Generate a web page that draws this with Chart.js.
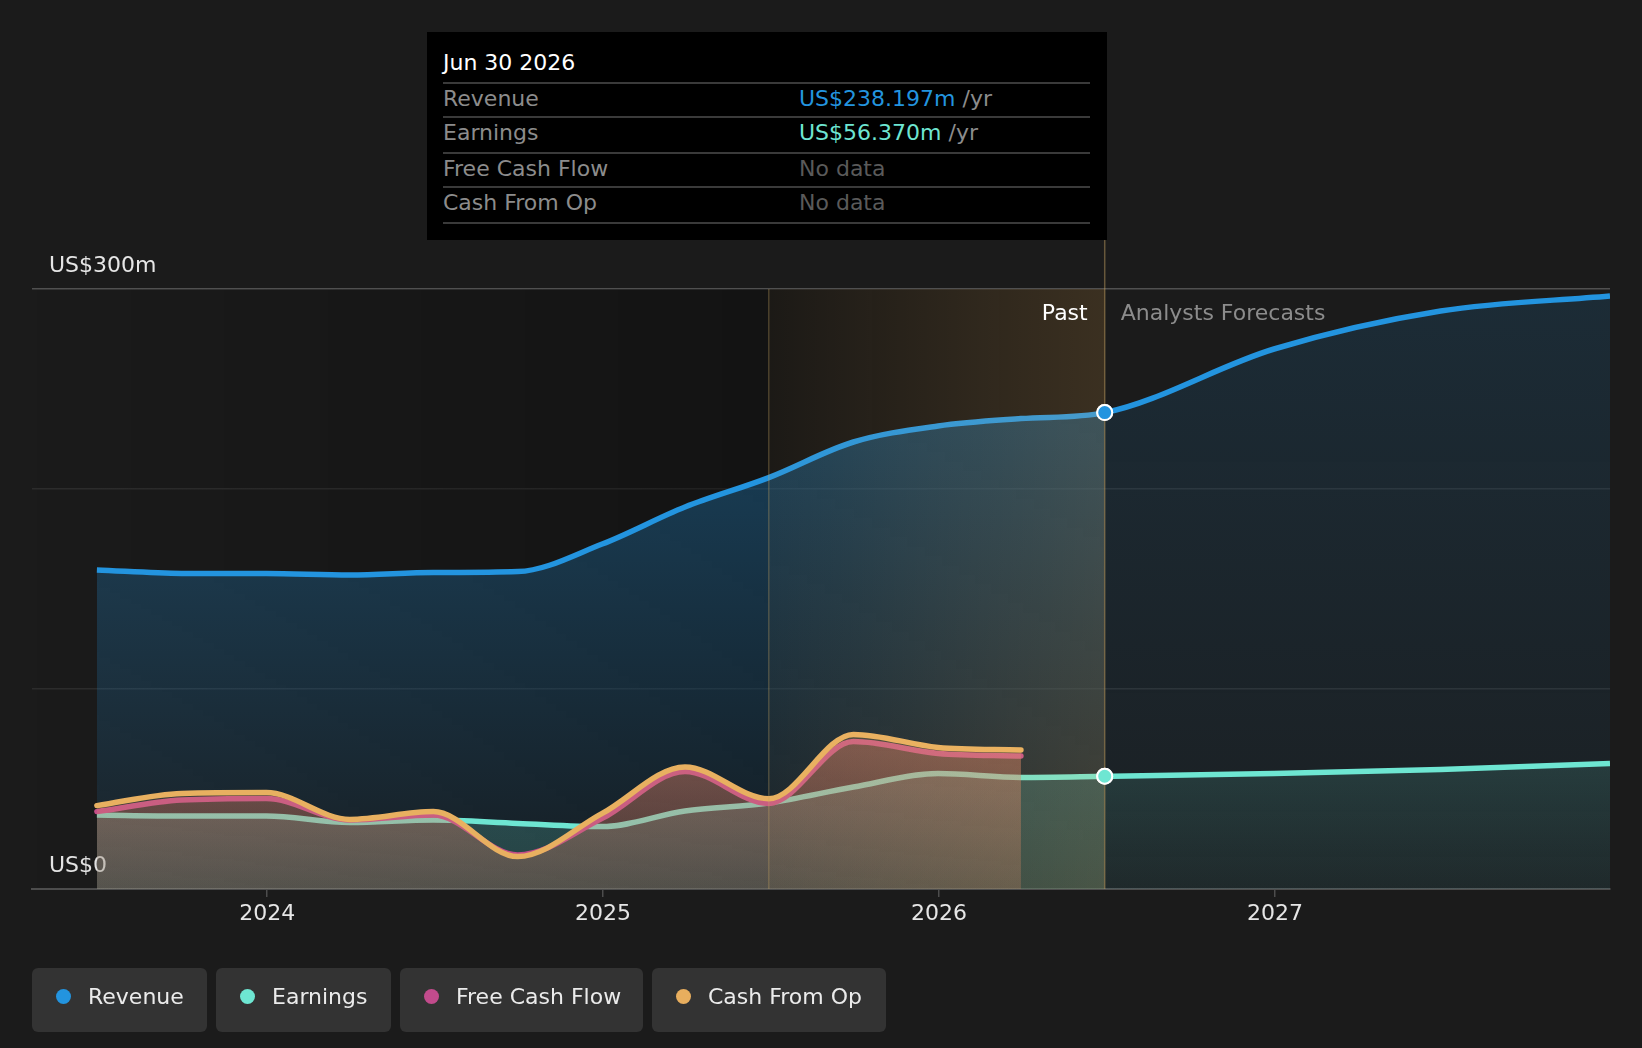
<!DOCTYPE html>
<html>
<head>
<meta charset="utf-8">
<script src="https://cdn.jsdelivr.net/npm/chart.js@4.4.1/dist/chart.umd.min.js"></script>
<style>
  html, body { margin: 0; padding: 0; background: #1b1b1b; }
  body { width: 1642px; height: 1048px; overflow: hidden; position: relative; font-family: "DejaVu Sans", sans-serif; }
  #wrap { position: absolute; left: 0; top: 0; width: 1642px; height: 1048px; }
  .tip { position: absolute; left: 427px; top: 32px; width: 680px; height: 208px; background: #000; font-size: 22px; }
  .tip .title { position: absolute; left: 16px; top: 19px; line-height: 24px; color: #fff; }
  .tip .sep { position: absolute; left: 16px; width: 647px; height: 2px; background: #3a3a3a; }
  .tip .row { position: absolute; left: 0; width: 680px; height: 24px; line-height: 24px; }
  .tip .lbl { position: absolute; left: 16px; color: #8c8c8c; }
  .tip .val { position: absolute; left: 372px; color: #8c8c8c; white-space: nowrap; }
  .tip .none { color: #5a5a5a; }
  .legend { position: absolute; left: 32px; top: 968px; display: flex; gap: 9px; }
  .legend .item { height: 64px; box-sizing: border-box; padding: 0 0 8px 24px; background: #333; border-radius: 6px;
                  display: flex; align-items: center; color: #ebebeb; font-size: 22px; }
  .legend .dot { width: 15px; height: 15px; border-radius: 50%; margin-right: 17px; flex: none; }
</style>
</head>
<body>
<div id="wrap"><canvas id="chart"></canvas></div>

<div class="tip">
  <div class="title">Jun 30 2026</div>
  <div class="sep" style="top:50px"></div>
  <div class="row" style="top:55px"><span class="lbl">Revenue</span><span class="val"><span style="color:#2394df">US$238.197m</span> /yr</span></div>
  <div class="sep" style="top:84px"></div>
  <div class="row" style="top:89px"><span class="lbl">Earnings</span><span class="val"><span style="color:#6ee6d2">US$56.370m</span> /yr</span></div>
  <div class="sep" style="top:120px"></div>
  <div class="row" style="top:125px"><span class="lbl">Free Cash Flow</span><span class="val none">No data</span></div>
  <div class="sep" style="top:154px"></div>
  <div class="row" style="top:159px"><span class="lbl">Cash From Op</span><span class="val none">No data</span></div>
  <div class="sep" style="top:190px"></div>
</div>

<div class="legend">
  <div class="item" style="width:175px"><span class="dot" style="background:#2394df"></span>Revenue</div>
  <div class="item" style="width:175px"><span class="dot" style="background:#6ee6d2"></span>Earnings</div>
  <div class="item" style="width:243px"><span class="dot" style="background:#c24b8c"></span>Free Cash Flow</div>
  <div class="item" style="width:234px"><span class="dot" style="background:#e8ae5e"></span>Cash From Op</div>
</div>

<script>
// quarterly history, ending at the highlighted Jun 30 2026 point
const pastDates = ['2023-06-30', '2023-09-30', '2023-12-31', '2024-03-31', '2024-06-30', '2024-09-30',
  '2024-12-31', '2025-03-31', '2025-06-30', '2025-09-30', '2025-12-31', '2026-03-31', '2026-06-30'];
const forecastDates = ['2026-12-31', '2027-06-30', '2027-12-31'];

// US$ millions
const revenue = [159.5, 157.8, 157.7, 157.0, 158.2, 158.7, 172.5, 191.0, 205.7, 223.5, 231.5, 235.2, 238.197];
const revenueForecast = [270.0, 289.0, 296.5];
const earnings = [37.0, 36.5, 36.5, 33.3, 34.5, 32.8, 31.2, 39.0, 43.0, 51.0, 57.7, 55.8, 56.37];
const earningsForecast = [57.8, 59.8, 62.8];
const freeCashFlow = [38.7, 44.5, 45.3, 34.5, 37.0, 17.0, 35.3, 58.7, 42.8, 73.7, 67.8, 66.5];
const cashFromOp = [41.7, 47.8, 48.2, 34.8, 38.7, 16.2, 37.8, 61.0, 45.1, 77.3, 70.8, 69.5];

const yearTicks = [2024, 2025, 2026, 2027];
const yTicks = [0, 100, 200, 300];
const shadeStartDate = '2025-06-30';
const pastEndDate = '2026-06-30';

function toYear(d) {
  const t = Date.parse(d + 'T00:00:00Z');
  const y = new Date(t).getUTCFullYear();
  const a = Date.UTC(y, 0, 1);
  const b = Date.UTC(y + 1, 0, 1);
  return y + (t - a) / (b - a);
}

const X_MIN = 2023.30;
const X_MAX = toYear('2027-12-31');
const SHADE_X = toYear(shadeStartDate);
const PAST_X = toYear(pastEndDate);
const HILITE = pastDates.indexOf(pastEndDate);

const COLORS = {
  revenue: '#2394df',
  earnings: '#6ee6d2',
  fcf: '#c44d88',
  cfo: '#e8b060',
};

const FILLS = {
  revPast: [[0, 'rgba(35,148,223,0.41)'], [1, 'rgba(35,148,223,0.065)']],
  revFore: [[0, 'rgba(35,148,223,0.14)'], [1, 'rgba(35,148,223,0.04)']],
  earnPast: [[0.7, 'rgba(110,230,210,0.22)'], [1, 'rgba(110,230,210,0.18)']],
  earnFore: [[0.7, 'rgba(110,230,210,0.17)'], [1, 'rgba(110,230,210,0.05)']],
  fcf: [[0.7, 'rgba(205,90,105,0.40)'], [1, 'rgba(205,90,105,0.16)']],
  cfo: [[0.7, 'rgba(230,175,95,0.24)'], [1, 'rgba(230,175,95,0.11)']],
};

const gradCache = {};
function grad(chart, key) {
  const area = chart.chartArea;
  if (!area) return 'rgba(0,0,0,0)';
  const id = key + ':' + area.top + ':' + area.bottom;
  if (!gradCache[id]) {
    const g = chart.ctx.createLinearGradient(0, area.top, 0, area.bottom);
    FILLS[key].forEach(([t, c]) => g.addColorStop(t, c));
    gradCache[id] = g;
  }
  return gradCache[id];
}

function toPoints(dates, values) {
  return dates.map((d, i) => ({ x: toYear(d), y: values[i] }));
}

const allDates = pastDates.concat(forecastDates);
const fcfDates = pastDates.slice(0, freeCashFlow.length);

const hiliteRadius = (c) => (c.dataIndex === HILITE ? 7.5 : 0);

const periodPlugin = {
  id: 'periods',
  beforeDatasetsDraw(chart) {
    const { ctx, chartArea: a, scales: { x } } = chart;
    const xs = x.getPixelForValue(SHADE_X);
    const xp = x.getPixelForValue(PAST_X);
    const g = ctx.createLinearGradient(a.left, 0, xs, 0);
    g.addColorStop(0, 'rgba(0,0,0,0)');
    g.addColorStop(1, 'rgba(0,0,0,0.28)');
    ctx.save();
    ctx.fillStyle = g;
    ctx.fillRect(a.left, a.top, xs - a.left, a.bottom - a.top);
    ctx.fillStyle = 'rgba(0,0,0,0.28)';
    ctx.fillRect(xs, a.top, xp - xs, a.bottom - a.top);
    ctx.restore();
  },
  afterDatasetsDraw(chart) {
    const { ctx, chartArea: a, scales: { x } } = chart;
    const xs = x.getPixelForValue(SHADE_X);
    const xp = x.getPixelForValue(PAST_X);
    ctx.save();
    const g = ctx.createLinearGradient(xs, 0, xp, 0);
    g.addColorStop(0, 'rgba(255,190,100,0.04)');
    g.addColorStop(1, 'rgba(255,190,100,0.17)');
    ctx.fillStyle = g;
    ctx.fillRect(xs, a.top, xp - xs, a.bottom - a.top);

    ctx.lineWidth = 1.5;
    ctx.strokeStyle = 'rgba(200,165,100,0.3)';
    ctx.beginPath();
    ctx.moveTo(xs, a.top);
    ctx.lineTo(xs, a.bottom);
    ctx.stroke();
    ctx.strokeStyle = 'rgba(200,165,100,0.45)';
    ctx.beginPath();
    ctx.moveTo(xp, 240);
    ctx.lineTo(xp, a.bottom);
    ctx.stroke();
    ctx.restore();

    // keep the highlighted markers above the overlay
    [0, 1].forEach((i) => {
      const pt = chart.getDatasetMeta(i).data[HILITE];
      if (pt) pt.draw(ctx, a);
    });
  },
  afterDraw(chart) {
    const { ctx, chartArea: a, scales: { x } } = chart;
    const xp = x.getPixelForValue(PAST_X);
    ctx.save();
    ctx.font = '22px "DejaVu Sans"';
    ctx.textBaseline = 'alphabetic';
    ctx.fillStyle = '#ffffff';
    ctx.textAlign = 'right';
    ctx.fillText('Past', xp - 17, a.top + 31);
    ctx.fillStyle = '#8c8c8c';
    ctx.textAlign = 'left';
    ctx.fillText('Analysts Forecasts', xp + 16, a.top + 31);
    ctx.restore();
  },
};

const font = { family: 'DejaVu Sans', size: 22 };

new Chart(document.getElementById('chart'), {
  type: 'line',
  data: {
    datasets: [
      {
        label: 'Revenue',
        data: toPoints(allDates, revenue.concat(revenueForecast)),
        borderColor: COLORS.revenue,
        backgroundColor: (c) => grad(c.chart, 'revPast'),
        segment: {
          backgroundColor: (c) => grad(c.chart, c.p0.parsed.x >= PAST_X - 1e-6 ? 'revFore' : 'revPast'),
        },
        fill: 'origin',
        order: 4,
        pointRadius: hiliteRadius,
        pointBackgroundColor: COLORS.revenue,
        pointBorderColor: '#ffffff',
        pointBorderWidth: 2,
      },
      {
        label: 'Earnings',
        data: toPoints(allDates, earnings.concat(earningsForecast)),
        borderColor: COLORS.earnings,
        backgroundColor: (c) => grad(c.chart, 'earnPast'),
        segment: {
          backgroundColor: (c) => grad(c.chart, c.p0.parsed.x >= PAST_X - 1e-6 ? 'earnFore' : 'earnPast'),
        },
        fill: 'origin',
        order: 3,
        pointRadius: hiliteRadius,
        pointBackgroundColor: COLORS.earnings,
        pointBorderColor: '#ffffff',
        pointBorderWidth: 2,
      },
      {
        label: 'Free Cash Flow',
        data: toPoints(fcfDates, freeCashFlow),
        borderColor: COLORS.fcf,
        backgroundColor: (c) => grad(c.chart, 'fcf'),
        borderCapStyle: 'round',
        fill: 'origin',
        order: 2,
      },
      {
        label: 'Cash From Op',
        data: toPoints(fcfDates, cashFromOp),
        borderColor: COLORS.cfo,
        backgroundColor: (c) => grad(c.chart, 'cfo'),
        borderCapStyle: 'round',
        fill: 'origin',
        order: 1,
      },
    ],
  },
  options: {
    responsive: true,
    maintainAspectRatio: false,
    animation: false,
    events: [],
    layout: { padding: { left: 32, right: 32, top: 289, bottom: 0 } },
    plugins: {
      legend: { display: false },
      tooltip: { enabled: false },
    },
    elements: {
      line: { borderWidth: 5.5, cubicInterpolationMode: 'monotone' },
      point: { radius: 0, hoverRadius: 0 },
    },
    scales: {
      x: {
        type: 'linear',
        min: X_MIN,
        max: X_MAX,
        afterBuildTicks: (s) => { s.ticks = yearTicks.map((v) => ({ value: v })); },
        afterFit: (s) => { s.height = 159; },
        ticks: {
          color: '#e6e6e6',
          font,
          padding: 4,
          maxRotation: 0,
          autoSkip: false,
          callback: (v) => String(v),
        },
        grid: { drawOnChartArea: false, drawTicks: true, tickLength: 8, color: '#4d4d4d', lineWidth: 1.5 },
        border: { display: true, color: '#4d4d4d', width: 2 },
      },
      y: {
        min: 0,
        max: 300,
        z: 1,
        afterBuildTicks: (s) => { s.ticks = yTicks.map((v) => ({ value: v })); },
        afterFit: (s) => { s.width = 0; },
        ticks: {
          mirror: true,
          padding: 17,
          labelOffset: -22.5,
          color: '#e6e6e6',
          font,
          callback: (v) => (v === 300 ? 'US$300m' : v === 0 ? 'US$0' : ''),
        },
        grid: {
          drawTicks: false,
          lineWidth: 1.5,
          color: (c) => (c.tick.value === 300 ? '#505050' : c.tick.value === 0 ? 'rgba(0,0,0,0)' : 'rgba(255,255,255,0.08)'),
        },
        border: { display: false },
      },
    },
  },
  plugins: [periodPlugin],
});
</script>
</body>
</html>
